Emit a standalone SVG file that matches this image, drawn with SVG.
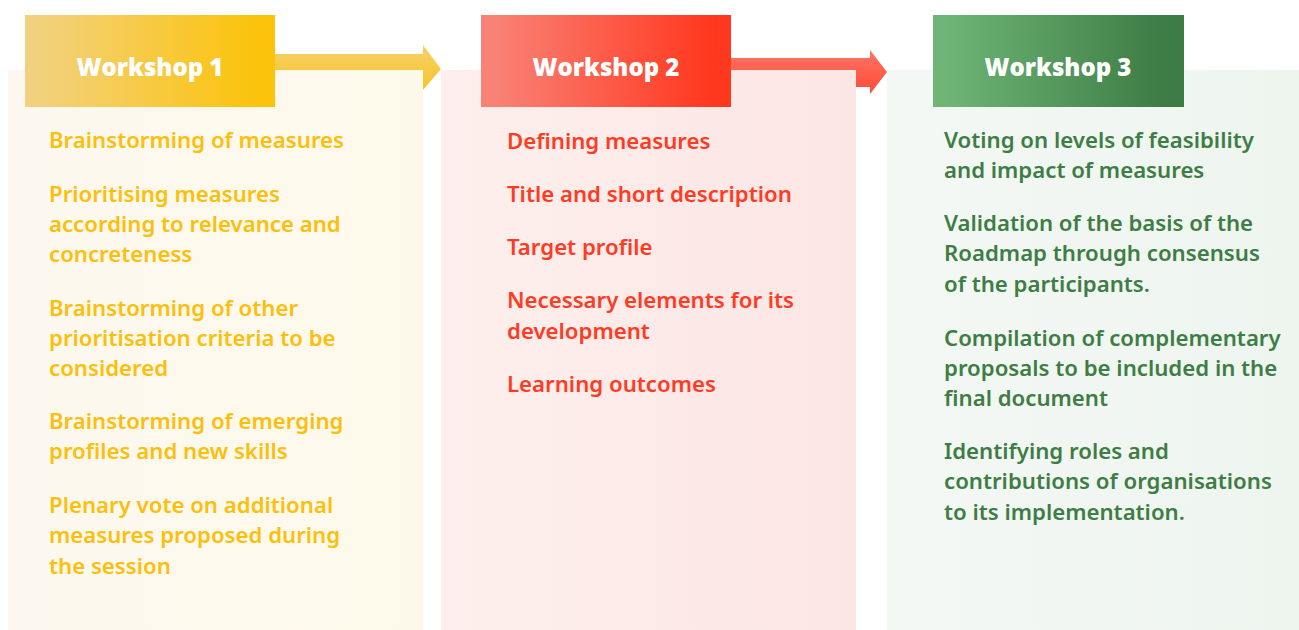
<svg xmlns="http://www.w3.org/2000/svg" width="1299" height="630" viewBox="0 0 1299 630">
<defs>
<linearGradient id="p1" x1="0" x2="1" y1="0" y2="0"><stop offset="0" stop-color="#FDF8EF"/><stop offset="1" stop-color="#FDF9EA"/></linearGradient>
<linearGradient id="p2" x1="0" x2="1" y1="0" y2="0"><stop offset="0" stop-color="#FDEFED"/><stop offset="1" stop-color="#FCE6E4"/></linearGradient>
<linearGradient id="p3" x1="0" x2="1" y1="0" y2="0"><stop offset="0" stop-color="#F3F8F4"/><stop offset="1" stop-color="#EEF4EE"/></linearGradient>
<linearGradient id="h1" x1="0" x2="1" y1="0" y2="0"><stop offset="0.05" stop-color="#F2D17E"/><stop offset="0.92" stop-color="#FBC30C"/></linearGradient>
<linearGradient id="h2" x1="0" x2="1" y1="0" y2="0"><stop offset="0.05" stop-color="#F98276"/><stop offset="0.92" stop-color="#FF381E"/></linearGradient>
<linearGradient id="h3" x1="0" x2="1" y1="0" y2="0"><stop offset="0.05" stop-color="#6EB576"/><stop offset="0.92" stop-color="#3D7C44"/></linearGradient>
<linearGradient id="a1" x1="0" x2="0" y1="0" y2="1"><stop offset="0" stop-color="#F5D168"/><stop offset="1" stop-color="#F8C42A"/></linearGradient>
<linearGradient id="a2" x1="0" x2="0" y1="0" y2="1"><stop offset="0" stop-color="#FE7565"/><stop offset="1" stop-color="#FF4A36"/></linearGradient>
</defs>
<style>
.hd{font-family:"Open Sans","Roboto",sans-serif;font-weight:800;font-size:24px;fill:#FFFFFF;text-anchor:middle}
.t{font-family:"Noto Sans","Open Sans",sans-serif;font-weight:600;font-size:22.2px}
.y{fill:#FBBF0C}
.r{fill:#FF3B24}
.g{fill:#3E7D45}
</style>
<rect width="1299" height="630" fill="#FFFFFF"/>
<g id="connectors">
<path d="M275 54 H423 V45 L441 69 L423 90 V83 H275 Z" fill="url(#a1)"/>
<path d="M731 58 H870 V50 L887 72 L870 94 V87 H731 Z" fill="url(#a2)"/>
</g>
<g id="workshop1">
<rect x="8" y="70" width="415" height="560" fill="url(#p1)"/>
<rect x="25" y="15" width="250" height="92" fill="url(#h1)"/>
<text class="hd" x="150" y="76">Workshop 1</text>
<g class="t y">
<text x="49" y="148">Brainstorming of measures</text>
<text x="49" y="202">Prioritising measures</text>
<text x="49" y="232">according to relevance and</text>
<text x="49" y="262">concreteness</text>
<text x="49" y="316">Brainstorming of other</text>
<text x="49" y="346">prioritisation criteria to be</text>
<text x="49" y="376">considered</text>
<text x="49" y="429">Brainstorming of emerging</text>
<text x="49" y="459">profiles and new skills</text>
<text x="49" y="513">Plenary vote on additional</text>
<text x="49" y="543">measures proposed during</text>
<text x="49" y="574">the session</text>
</g>
</g>
<g id="workshop2">
<rect x="441" y="70" width="415" height="560" fill="url(#p2)"/>
<rect x="481" y="15" width="250" height="92" fill="url(#h2)"/>
<text class="hd" x="606" y="76">Workshop 2</text>
<g class="t r">
<text x="507" y="149">Defining measures</text>
<text x="507" y="202">Title and short description</text>
<text x="507" y="255">Target profile</text>
<text x="507" y="308">Necessary elements for its</text>
<text x="507" y="339">development</text>
<text x="507" y="392">Learning outcomes</text>
</g>
</g>
<g id="workshop3">
<rect x="887" y="70" width="412" height="560" fill="url(#p3)"/>
<rect x="933" y="15" width="251" height="92" fill="url(#h3)"/>
<text class="hd" x="1058" y="76">Workshop 3</text>
<g class="t g">
<text x="944" y="148">Voting on levels of feasibility</text>
<text x="944" y="178">and impact of measures</text>
<text x="944" y="231">Validation of the basis of the</text>
<text x="944" y="261">Roadmap through consensus</text>
<text x="944" y="292">of the participants.</text>
<text x="944" y="346">Compilation of complementary</text>
<text x="944" y="376">proposals to be included in the</text>
<text x="944" y="406">final document</text>
<text x="944" y="459">Identifying roles and</text>
<text x="944" y="489">contributions of organisations</text>
<text x="944" y="520">to its implementation.</text>
</g>
</g>
</svg>
